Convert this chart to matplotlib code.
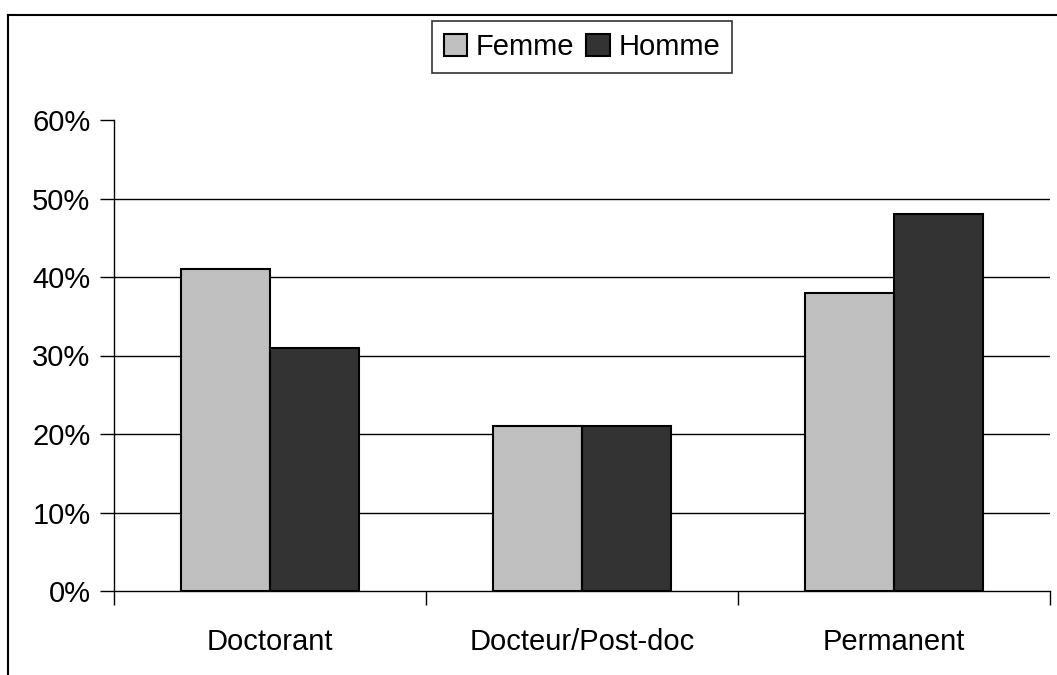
import matplotlib
matplotlib.use('Agg')
import matplotlib.pyplot as plt
from matplotlib.lines import Line2D
import numpy as np

categories = ['Doctorant', 'Docteur/Post-doc', 'Permanent']
femme = [41, 21, 38]
homme = [31, 21, 48]
yticks = [0, 10, 20, 30, 40, 50, 60]

plt.rcParams['font.family'] = ['Liberation Sans', 'DejaVu Sans']

fig = plt.figure(figsize=(10.57, 6.75), dpi=100)
ax = fig.add_axes([114/1057, 84/675, 936/1057, 471/675])

x = np.arange(len(categories)) + 0.5
w = 0.285
ax.bar(x - w/2, femme, w, color='#c0c0c0', edgecolor='black', linewidth=1.5, label='Femme', zorder=3)
ax.bar(x + w/2, homme, w, color='#333333', edgecolor='black', linewidth=1.5, label='Homme', zorder=3)

ax.set_xlim(0, 3)
ax.set_ylim(0, 60)
for v in yticks[1:-1]:
    ax.axhline(v, color='black', linewidth=1, zorder=1)

ax.set_yticks(yticks)
ax.set_yticklabels([f'{v}%' for v in yticks], fontsize=21)
ax.set_xticks([0, 1, 2, 3])
ax.set_xticklabels([])
ax.set_xticks(x, minor=True)
ax.set_xticklabels(categories, minor=True, fontsize=21)
ax.tick_params(axis='x', which='minor', length=0, pad=27)
ax.tick_params(axis='x', which='major', length=10, width=1, direction='out')
ax.tick_params(axis='y', length=10, width=1, direction='out', pad=7)

for s in ['top', 'right']:
    ax.spines[s].set_visible(False)
for s in ['left', 'bottom']:
    ax.spines[s].set_linewidth(1)

leg = fig.legend(loc='center', bbox_to_anchor=(582/1057, 1 - 47/675), ncol=2,
                 fontsize=21, frameon=True, fancybox=False, edgecolor='black',
                 handlelength=0.8, handleheight=0.8, handletextpad=0.3,
                 columnspacing=0.4, borderpad=0.4, borderaxespad=0)
leg.get_frame().set_linewidth(1.2)

# outer chart frame
fx = 8/1057
fy = 1 - 15/675
fig.add_artist(Line2D([fx, fx], [0, fy], transform=fig.transFigure, color='black', linewidth=1.5))
fig.add_artist(Line2D([fx, 1], [fy, fy], transform=fig.transFigure, color='black', linewidth=1.5))

fig.savefig('out.png', dpi=100)
